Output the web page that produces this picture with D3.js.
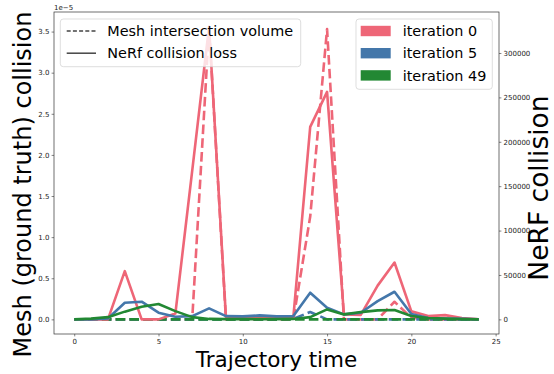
<!DOCTYPE html>
<html><head><meta charset="utf-8">
<script src="https://cdn.jsdelivr.net/npm/d3@7"></script>
<style>body{margin:0;background:#fff}svg{display:block;font-family:"DejaVu Sans",sans-serif}</style>
</head><body><svg id="c" width="554" height="374"></svg>
<script>
// ---- data ----
const times = d3.range(0, 25);
const iterations = ["iteration 0", "iteration 5", "iteration 49"];
const colors = ["#EE6677", "#4477AA", "#228833"];
// Mesh intersection volume (left axis, x1e-5), dashed
const mesh0  = [0,0,0,0,0,0,0,0,3.56,0,0,0,0,0,1.25,3.53,0,0,0,0.214,0.02,0,0,0,0];
const mesh5  = [0,0,0,0,0,0,0,0,0,0,0,0,0,0.005,0.09,0,0,0,0,0,0,0,0,0,0];
const mesh49 = [0,0,0,0,0,0,0,0,0,0,0,0,0,0,0,0,0,0,0,0,0,0,0,0,0];
// NeRF collision loss (right axis), solid
const nerf0  = [0,0,0,54300,0,0,6500,167500,329700,2500,3000,2000,2500,2500,216800,256200,5600,5000,38000,64000,9000,3700,4800,1500,0];
const nerf5  = [0,0,1000,18700,19900,7500,3000,3700,12400,3700,3400,4500,3400,3700,30000,13100,5600,7500,20600,31100,6000,1500,800,500,0];
const nerf49 = [0,800,2500,8700,14300,17300,9300,2500,500,300,300,300,300,500,2500,11200,5600,8200,10100,10500,3700,1500,800,300,0];
const xTicks = [0,5,10,15,20,25];
const yLeftTicks = [0,0.5,1.0,1.5,2.0,2.5,3.0,3.5];
const yRightTicks = [0,50000,100000,150000,200000,250000,300000];
const styleLabels = ["Mesh intersection volume", "NeRf collision loss"];

const meshSeries = [mesh0, mesh5, mesh49];
const nerfSeries = [nerf0, nerf5, nerf49];

// ---- layout ----
const svg = d3.select("#c");
const L = 54, R = 499, T = 12, B = 334;
const pad = (lo, hi) => { const m = (hi - lo) * 0.05; return [lo - m, hi + m]; };
const x = d3.scaleLinear().domain(pad(0, 24)).range([L, R]);
const yL = d3.scaleLinear().domain(pad(0, d3.max(meshSeries.flat()))).range([B, T]);
const yR = d3.scaleLinear().domain(pad(0, d3.max(nerfSeries.flat()))).range([B, T]);

svg.append("rect").attr("width", 554).attr("height", 374).attr("fill", "#fff");

svg.append("defs").append("clipPath").attr("id", "clip")
  .append("rect").attr("x", L).attr("y", T).attr("width", R - L).attr("height", B - T);

const tickFont = 7;
const axColor = "#333";
// axes
const gx = svg.append("g").attr("transform", `translate(0,${B})`)
  .call(d3.axisBottom(x).tickValues(xTicks).tickFormat(d3.format("d")).tickSize(2.4).tickPadding(2.2));
const gl = svg.append("g").attr("transform", `translate(${L},0)`)
  .call(d3.axisLeft(yL).tickValues(yLeftTicks).tickFormat(d3.format(".1f")).tickSize(2.4).tickPadding(2.2));
const gr = svg.append("g").attr("transform", `translate(${R},0)`)
  .call(d3.axisRight(yR).tickValues(yRightTicks).tickFormat(d3.format("d")).tickSize(2.4).tickPadding(2.2));
[gx, gl, gr].forEach(g => {
  g.select(".domain").remove();
  g.selectAll("line").attr("stroke", axColor).attr("stroke-width", 0.6);
  g.selectAll("text").attr("font-size", tickFont).attr("fill", "#222").attr("font-family", "DejaVu Sans");
});
// frame
svg.append("rect").attr("x", L).attr("y", T).attr("width", R - L).attr("height", B - T)
  .attr("fill", "none").attr("stroke", axColor).attr("stroke-width", 0.7);

// offset text
svg.append("text").attr("x", L).attr("y", 9.5).attr("font-size", tickFont).attr("fill", "#222").text("1e\u22125");

// lines
const plot = svg.append("g").attr("clip-path", "url(#clip)");
meshSeries.forEach((s, i) => {
  plot.append("path").datum(s)
    .attr("d", d3.line().x((d, j) => x(times[j])).y(d => yL(d)))
    .attr("fill", "none").attr("stroke", colors[i]).attr("stroke-width", 2.6)
    .attr("stroke-dasharray", "9.6,4.2").attr("stroke-linejoin", "round");
});
nerfSeries.forEach((s, i) => {
  plot.append("path").datum(s)
    .attr("d", d3.line().x((d, j) => x(times[j])).y(d => yR(d)))
    .attr("fill", "none").attr("stroke", colors[i]).attr("stroke-width", 2.6)
    .attr("stroke-linejoin", "round");
});

// axis labels
svg.append("text").attr("transform", `translate(31,184.5) rotate(-90)`)
  .attr("text-anchor", "middle").attr("font-size", 24).attr("fill", "#000")
  .text("Mesh (ground truth) collision");
svg.append("text").attr("transform", `translate(548,188) rotate(-90)`)
  .attr("text-anchor", "middle").attr("font-size", 26.5).attr("fill", "#000")
  .text("NeRF collision");
svg.append("text").attr("x", (L + R) / 2).attr("y", 367)
  .attr("text-anchor", "middle").attr("font-size", 21.5).attr("fill", "#000")
  .text("Trajectory time");

// legends
const legFont = 14.4;
const rowY = [31, 53.2, 75.4];
const lg1 = svg.append("g");
lg1.append("rect").attr("x", 60.3).attr("y", 19).attr("width", 240.4).attr("height", 47.7)
  .attr("rx", 3).attr("fill", "#fff").attr("fill-opacity", 0.8).attr("stroke", "#d0d0d0").attr("stroke-width", 0.7);
styleLabels.forEach((t, i) => {
  lg1.append("line").attr("x1", 66.7).attr("x2", 96).attr("y1", rowY[i]).attr("y2", rowY[i])
    .attr("stroke", "#444").attr("stroke-width", 1.5)
    .attr("stroke-dasharray", i === 0 ? "4,2.2" : null);
  lg1.append("text").attr("x", 107.3).attr("y", rowY[i] + 5.2).attr("font-size", legFont).attr("fill", "#000").text(t);
});
const lg2 = svg.append("g");
lg2.append("rect").attr("x", 356).attr("y", 19).attr("width", 136.3).attr("height", 70.3)
  .attr("rx", 3).attr("fill", "#fff").attr("fill-opacity", 0.8).attr("stroke", "#d0d0d0").attr("stroke-width", 0.7);
iterations.forEach((t, i) => {
  lg2.append("rect").attr("x", 360.7).attr("y", rowY[i] - 5.2).attr("width", 30).attr("height", 10.4)
    .attr("fill", colors[i]);
  lg2.append("text").attr("x", 402.7).attr("y", rowY[i] + 5.2).attr("font-size", legFont).attr("fill", "#000").text(t);
});
</script></body></html>
